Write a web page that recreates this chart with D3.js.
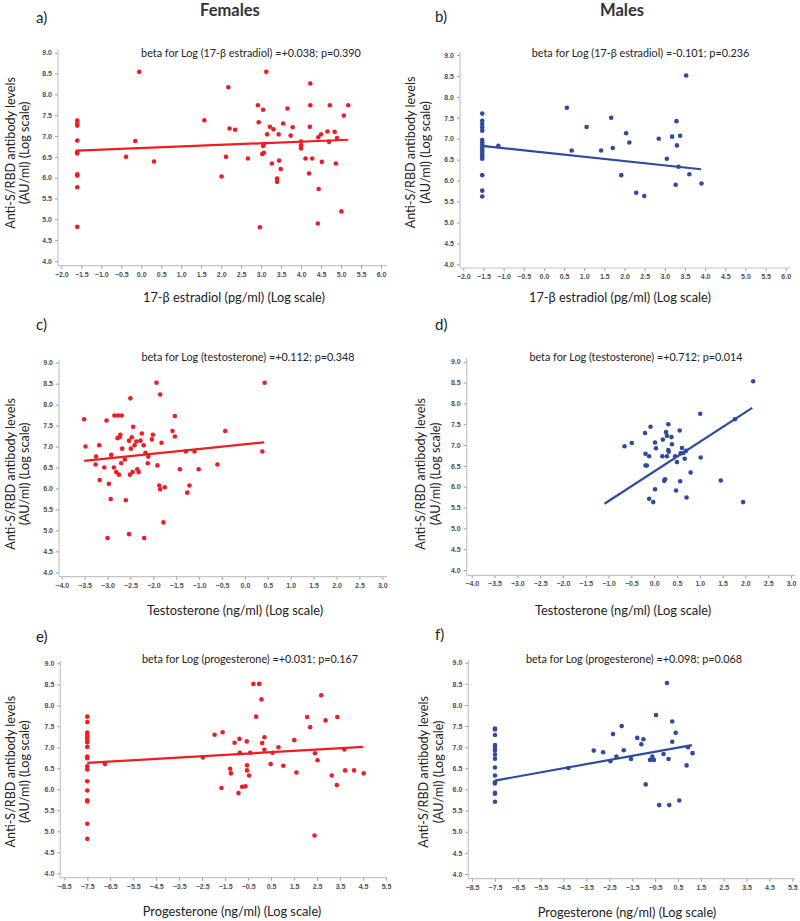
<!DOCTYPE html>
<html><head><meta charset="utf-8">
<script src="https://cdn.jsdelivr.net/npm/d3@7"></script>
<style>body{margin:0;background:#fff} svg{display:block}</style>
</head><body><svg id="c" width="800" height="921"></svg>
<script>
// ---------- DATA ----------
const yTicks = [4.0,4.5,5.0,5.5,6.0,6.5,7.0,7.5,8.0,8.5,9.0];
const xTicksEstradiol = [-2.0,-1.5,-1.0,-0.5,0.0,0.5,1.0,1.5,2.0,2.5,3.0,3.5,4.0,4.5,5.0,5.5,6.0];
const xTicksTestosterone = [-4.0,-3.5,-3.0,-2.5,-2.0,-1.5,-1.0,-0.5,0.0,0.5,1.0,1.5,2.0,2.5,3.0];
const xTicksProgesterone = [-8.5,-7.5,-6.5,-5.5,-4.5,-3.5,-2.5,-1.5,-0.5,0.5,1.5,2.5,3.5,4.5,5.5];

const columnTitles = ["Females","Males"];
const panelLetters = ["a)","b)","c)","d)","e)","f)"];
const yLabelLines = ["Anti-S/RBD antibody levels","(AU/ml) (Log scale)"];
const xLabels = ["17-β estradiol (pg/ml) (Log scale)","Testosterone (ng/ml) (Log scale)","Progesterone (ng/ml) (Log scale)"];
const annotations = [
  "beta for Log (17-β estradiol) =+0.038; p=0.390",
  "beta for Log (17-β estradiol) =-0.101; p=0.236",
  "beta for Log (testosterone) =+0.112; p=0.348",
  "beta for Log (testosterone) =+0.712; p=0.014",
  "beta for Log (progesterone) =+0.031; p=0.167",
  "beta for Log (progesterone) =+0.098; p=0.068"
];

const femEstradiol = [
  [-1.6,7.37],[-1.6,7.30],[-1.6,7.25],[-1.6,6.89],[-1.6,6.62],[-1.6,6.58],[-1.6,6.08],[-1.6,6.05],[-1.6,5.77],[-1.6,4.82],
  [-0.38,6.50],[-0.15,6.88],[-0.05,8.54],[0.32,6.39],[1.58,7.38],[2.01,6.03],[2.12,6.50],[2.18,8.17],[2.21,7.18],[2.35,7.15],
  [2.67,6.46],[2.92,7.74],[2.94,7.33],[2.97,4.81],[3.03,6.57],[3.05,7.63],[3.05,6.76],[3.07,6.60],[3.07,6.81],[3.13,8.54],
  [3.15,7.04],[3.22,7.22],[3.27,6.34],[3.31,7.16],[3.44,7.04],[3.45,6.41],[3.40,5.98],[3.40,5.90],[3.49,6.21],[3.55,7.30],
  [3.66,7.66],[3.74,7.01],[3.79,7.21],[4.00,6.87],[4.00,6.78],[4.00,6.70],[4.11,6.46],[4.20,6.10],[4.22,7.22],[4.23,7.74],
  [4.23,8.26],[4.28,6.46],[4.43,6.97],[4.44,5.73],[4.42,4.90],[4.50,7.04],[4.52,6.38],[4.66,7.11],[4.70,6.86],[4.72,7.74],
  [4.84,7.10],[4.87,6.34],[4.90,6.95],[5.01,5.19],[5.07,7.49],[5.18,7.74]
];
const femEstradiolFit = [[-1.6,6.65],[5.18,6.91]];

const maleEstradiol = [
  [-1.53,7.60],[-1.53,7.43],[-1.53,7.35],[-1.53,7.27],[-1.53,7.19],[-1.53,6.97],[-1.53,6.91],[-1.53,6.86],[-1.53,6.80],
  [-1.53,6.75],[-1.53,6.69],[-1.53,6.63],[-1.53,6.57],[-1.53,6.52],[-1.53,6.13],[-1.53,5.76],[-1.53,5.62],
  [-1.13,6.83],[0.57,7.74],[0.69,6.72],[1.06,7.28],[1.42,6.72],[1.67,7.50],[1.71,6.78],[1.92,6.13],[2.04,7.13],[2.12,6.91],
  [2.29,5.71],[2.49,5.63],[2.85,7.00],[3.05,6.52],[3.18,7.05],[3.27,5.90],[3.29,7.42],[3.30,6.84],[3.34,6.33],[3.38,7.07],
  [3.53,8.51],[3.61,6.15],[3.91,5.93]
];
const maleEstradiolFit = [[-1.53,6.83],[3.90,6.27]];

const femTestosterone = [
  [-3.51,7.65],[-3.48,7.00],[-3.25,6.76],[-3.26,6.57],[-3.18,7.03],[-3.17,6.20],[-3.07,6.50],[-3.02,7.62],[-3.00,4.82],[-2.97,6.11],
  [-2.93,5.75],[-2.92,6.80],[-2.85,7.74],[-2.86,6.50],[-2.81,6.39],[-2.78,7.20],[-2.77,7.74],[-2.75,6.33],[-2.73,7.23],[-2.72,7.28],
  [-2.70,6.60],[-2.69,7.74],[-2.68,6.95],[-2.62,6.69],[-2.60,5.72],[-2.53,7.14],[-2.53,4.91],[-2.51,6.33],[-2.50,8.15],[-2.49,6.95],
  [-2.47,7.22],[-2.45,6.39],[-2.44,7.47],[-2.41,7.03],[-2.37,7.12],[-2.35,6.46],[-2.32,6.39],[-2.28,7.14],[-2.25,7.31],[-2.21,7.03],
  [-2.20,4.82],[-2.17,6.85],[-2.12,6.60],[-2.11,6.76],[-2.03,7.17],[-2.01,7.28],[-1.93,8.52],[-1.91,6.55],[-1.87,6.07],[-1.85,5.98],
  [-1.85,8.24],[-1.82,7.09],[-1.78,5.19],[-1.75,6.03],[-1.58,7.37],[-1.53,7.73],[-1.53,7.24],[-1.42,6.46],[-1.29,6.88],[-1.26,5.90],
  [-1.21,6.07],[-1.10,6.88],[-1.01,6.46],[-0.60,6.57],[-0.43,7.37],[0.38,6.88],[0.43,8.52]
];
const femTestosteroneFit = [[-3.51,6.66],[0.42,7.10]];

const maleTestosterone = [
  [-0.65,6.97],[-0.49,7.05],[-0.20,7.29],[-0.08,7.44],[-0.19,6.79],[-0.11,6.73],[-0.19,6.51],[-0.16,6.51],[-0.11,5.71],[-0.02,5.63],
  [0.02,7.06],[0.04,6.92],[0.02,5.94],[0.19,7.13],[0.18,6.73],[0.22,6.14],[0.24,6.18],[0.26,7.31],[0.28,7.22],[0.28,6.73],
  [0.31,7.50],[0.31,6.88],[0.32,6.84],[0.38,7.19],[0.39,7.02],[0.46,6.73],[0.48,5.91],[0.50,6.59],[0.56,7.35],[0.57,6.13],
  [0.58,6.80],[0.61,6.93],[0.64,6.81],[0.67,6.67],[0.71,5.74],[0.70,6.86],[0.80,6.34],[1.01,7.75],[1.02,6.70],[1.46,6.15],
  [1.77,7.62],[1.95,5.63],[2.17,8.53]
];
const maleTestosteroneFit = [[-1.09,5.59],[2.15,7.89]];

const femProgesterone = [
  [-7.5,7.73],[-7.5,7.60],[-7.5,7.35],[-7.5,7.30],[-7.5,7.24],[-7.5,7.18],[-7.5,7.12],[-7.5,7.01],[-7.5,6.78],[-7.5,6.74],
  [-7.5,6.55],[-7.5,6.47],[-7.5,6.19],[-7.5,5.97],[-7.5,5.74],[-7.5,5.71],[-7.5,5.18],[-7.5,4.82],
  [-6.73,6.60],[-2.47,6.76],[-1.96,7.30],[-1.61,7.36],[-1.66,6.03],[-1.28,6.49],[-1.25,6.38],[-1.09,7.11],[-0.92,5.91],[-0.88,7.20],
  [-0.86,6.87],[-0.76,6.06],[-0.62,6.07],[-0.56,7.14],[-0.55,6.57],[-0.55,6.45],[-0.46,6.33],[-0.41,6.87],[-0.27,8.51],[-0.15,7.73],
  [-0.02,8.51],[0.08,8.14],[0.11,7.10],[0.21,7.24],[0.21,6.94],[0.48,6.60],[0.56,6.87],[0.82,7.00],[1.03,6.56],[1.51,7.17],
  [1.60,6.40],[2.07,7.72],[2.20,7.48],[2.41,6.86],[2.39,4.90],[2.52,6.69],[2.68,8.24],[2.87,7.64],[3.14,6.33],[3.36,6.10],
  [3.38,7.72],[3.69,6.95],[3.72,6.45],[4.11,6.45],[4.53,6.38]
];
const femProgesteroneFit = [[-7.5,6.63],[4.51,7.01]];

const maleProgesterone = [
  [-7.5,7.44],[-7.5,7.42],[-7.5,7.29],[-7.5,7.05],[-7.5,6.99],[-7.5,6.93],[-7.5,6.83],[-7.5,6.73],[-7.5,6.52],[-7.5,6.33],
  [-7.5,6.17],[-7.5,6.14],[-7.5,5.92],[-7.5,5.90],[-7.5,5.71],
  [-4.29,6.51],[-3.18,6.92],[-2.77,6.88],[-2.45,6.67],[-2.34,7.31],[-2.19,6.78],[-1.96,7.50],[-1.87,6.93],[-1.55,6.72],[-1.28,7.22],
  [-1.10,7.07],[-1.01,7.19],[-0.91,6.12],[-0.72,6.70],[-0.62,6.78],[-0.55,6.70],[-0.46,7.76],[-0.32,5.63],[-0.13,6.84],[0.02,8.52],
  [0.09,6.72],[0.12,5.63],[0.25,7.61],[0.25,7.13],[0.40,7.34],[0.56,5.74],[0.88,6.57],[0.94,7.00],[1.14,6.86]
];
const maleProgesteroneFit = [[-7.5,6.21],[1.11,7.05]];

// ---------- LAYOUT ----------
const RED = "#ee1c25", BLUE = "#2e4b9e";
const panels = [
  {pts:femEstradiol, fit:femEstradiolFit, col:RED, xt:xTicksEstradiol, xl:0,
   ax:58, ay:265.7, xd:[-2,6], xr:[61.3,381], yr:[261,52.7], xe:387, yt:50,
   lx:36, lby:23, anx:251, any:57, ylx:[14.5,28.5], ylc:153, xlx:234, xly:302},
  {pts:maleEstradiol, fit:maleEstradiolFit, col:BLUE, xt:xTicksEstradiol, xl:0,
   ax:460, ay:268, xd:[-2,6], xr:[463.3,785.7], yr:[264.3,55], xe:790, yt:52,
   lx:435, lby:22, anx:640.5, any:57, ylx:[414.5,429.5], ylc:152.5, xlx:620, xly:302},
  {pts:femTestosterone, fit:femTestosteroneFit, col:RED, xt:xTicksTestosterone, xl:1,
   ax:59, ay:576.7, xd:[-4,3], xr:[61.7,382.3], yr:[572.3,362.7], xe:387, yt:360,
   lx:36, lby:330, anx:248, any:361, ylx:[14.5,28.5], ylc:474, xlx:235, xly:615},
  {pts:maleTestosterone, fit:maleTestosteroneFit, col:BLUE, xt:xTicksTestosterone, xl:1,
   ax:466.7, ay:575.3, xd:[-4,3], xr:[471.7,791], yr:[570,361.7], xe:795, yt:358,
   lx:435, lby:330, anx:636, any:361, ylx:[424.5,439.5], ylc:474, xlx:623, xly:615},
  {pts:femProgesterone, fit:femProgesteroneFit, col:RED, xt:xTicksProgesterone, xl:2,
   ax:60.3, ay:877.7, xd:[-8.5,5.5], xr:[64.3,386], yr:[873.3,663.3], xe:387, yt:661,
   lx:36, lby:642, anx:250, any:662.5, ylx:[14.5,28.5], ylc:771.7, xlx:232, xly:916},
  {pts:maleProgesterone, fit:maleProgesteroneFit, col:BLUE, xt:xTicksProgesterone, xl:2,
   ax:468.3, ay:878.7, xd:[-8.5,5.5], xr:[472.1,792.3], yr:[874,662.7], xe:795, yt:660,
   lx:435, lby:640, anx:634, any:662.5, ylx:[427.5,442.5], ylc:772, xlx:627, xly:917}
];

const svg = d3.select("#c");
const FONT = "Lato, 'Open Sans', sans-serif";
const AXC = "#c4c4c4";

// column titles
[[230,"Females"],[622,"Males"]].forEach((t,i)=>{
  svg.append("text").attr("x",t[0]).attr("y",16).attr("text-anchor","middle")
    .attr("font-family",FONT).attr("font-weight","bold").attr("font-size",16.5)
    .attr("fill","#333").text(columnTitles[i]);
});

panels.forEach((p,i)=>{
  const g = svg.append("g");
  const x = d3.scaleLinear().domain(p.xd).range(p.xr);
  const y = d3.scaleLinear().domain([4,9]).range(p.yr);

  // panel letter
  g.append("text").attr("x",p.lx).attr("y",p.lby).attr("font-family",FONT)
    .attr("font-size",15).attr("fill","#222").text(panelLetters[i]);

  // axes
  const yAx = d3.axisLeft(y).tickValues(yTicks).tickSize(3).tickPadding(3).tickFormat(d3.format(".1f"));
  const gy = g.append("g").attr("transform",`translate(${p.ax},0)`).call(yAx);
  const xAx = d3.axisBottom(x).tickValues(p.xt).tickSize(3).tickPadding(3).tickFormat(d3.format(".1f"));
  const gx = g.append("g").attr("transform",`translate(0,${p.ay})`).call(xAx);
  [gx,gy].forEach(a=>{
    a.select(".domain").remove();
    a.selectAll(".tick line").attr("stroke","#9a9a9a");
    a.selectAll(".tick text").attr("font-family","'Liberation Sans', Arial, sans-serif")
      .attr("font-size",7).attr("font-weight","bold").attr("fill","#505050");
  });
  g.append("line").attr("x1",p.ax).attr("x2",p.ax).attr("y1",p.yt).attr("y2",p.ay)
    .attr("stroke",AXC).attr("stroke-width",1.2);
  g.append("line").attr("x1",p.ax).attr("x2",p.xe).attr("y1",p.ay).attr("y2",p.ay)
    .attr("stroke",AXC).attr("stroke-width",1.2);

  // points
  g.append("g").selectAll("circle").data(p.pts).join("circle")
    .attr("cx",d=>x(d[0])).attr("cy",d=>y(d[1])).attr("r",2.3).attr("fill",p.col);

  // fit line
  g.append("path").datum(p.fit)
    .attr("d",d3.line().x(d=>x(d[0])).y(d=>y(d[1])))
    .attr("stroke",p.col).attr("stroke-width",2.2).attr("fill","none");

  // annotation
  g.append("text").attr("x",p.anx).attr("y",p.any).attr("text-anchor","middle")
    .attr("font-family",FONT).attr("font-size",10.8).attr("fill","#222").text(annotations[i]);

  // y label (two lines, rotated)
  yLabelLines.forEach((t,k)=>{
    g.append("text").attr("transform",`translate(${p.ylx[k]},${p.ylc}) rotate(-90)`)
      .attr("text-anchor","middle").attr("font-family",FONT).attr("font-size",12.6)
      .attr("fill","#222").text(t);
  });

  // x label
  g.append("text").attr("x",p.xlx).attr("y",p.xly).attr("text-anchor","middle")
    .attr("font-family",FONT).attr("font-size",12.8).attr("fill","#222").text(xLabels[p.xl]);
});
</script></body></html>
